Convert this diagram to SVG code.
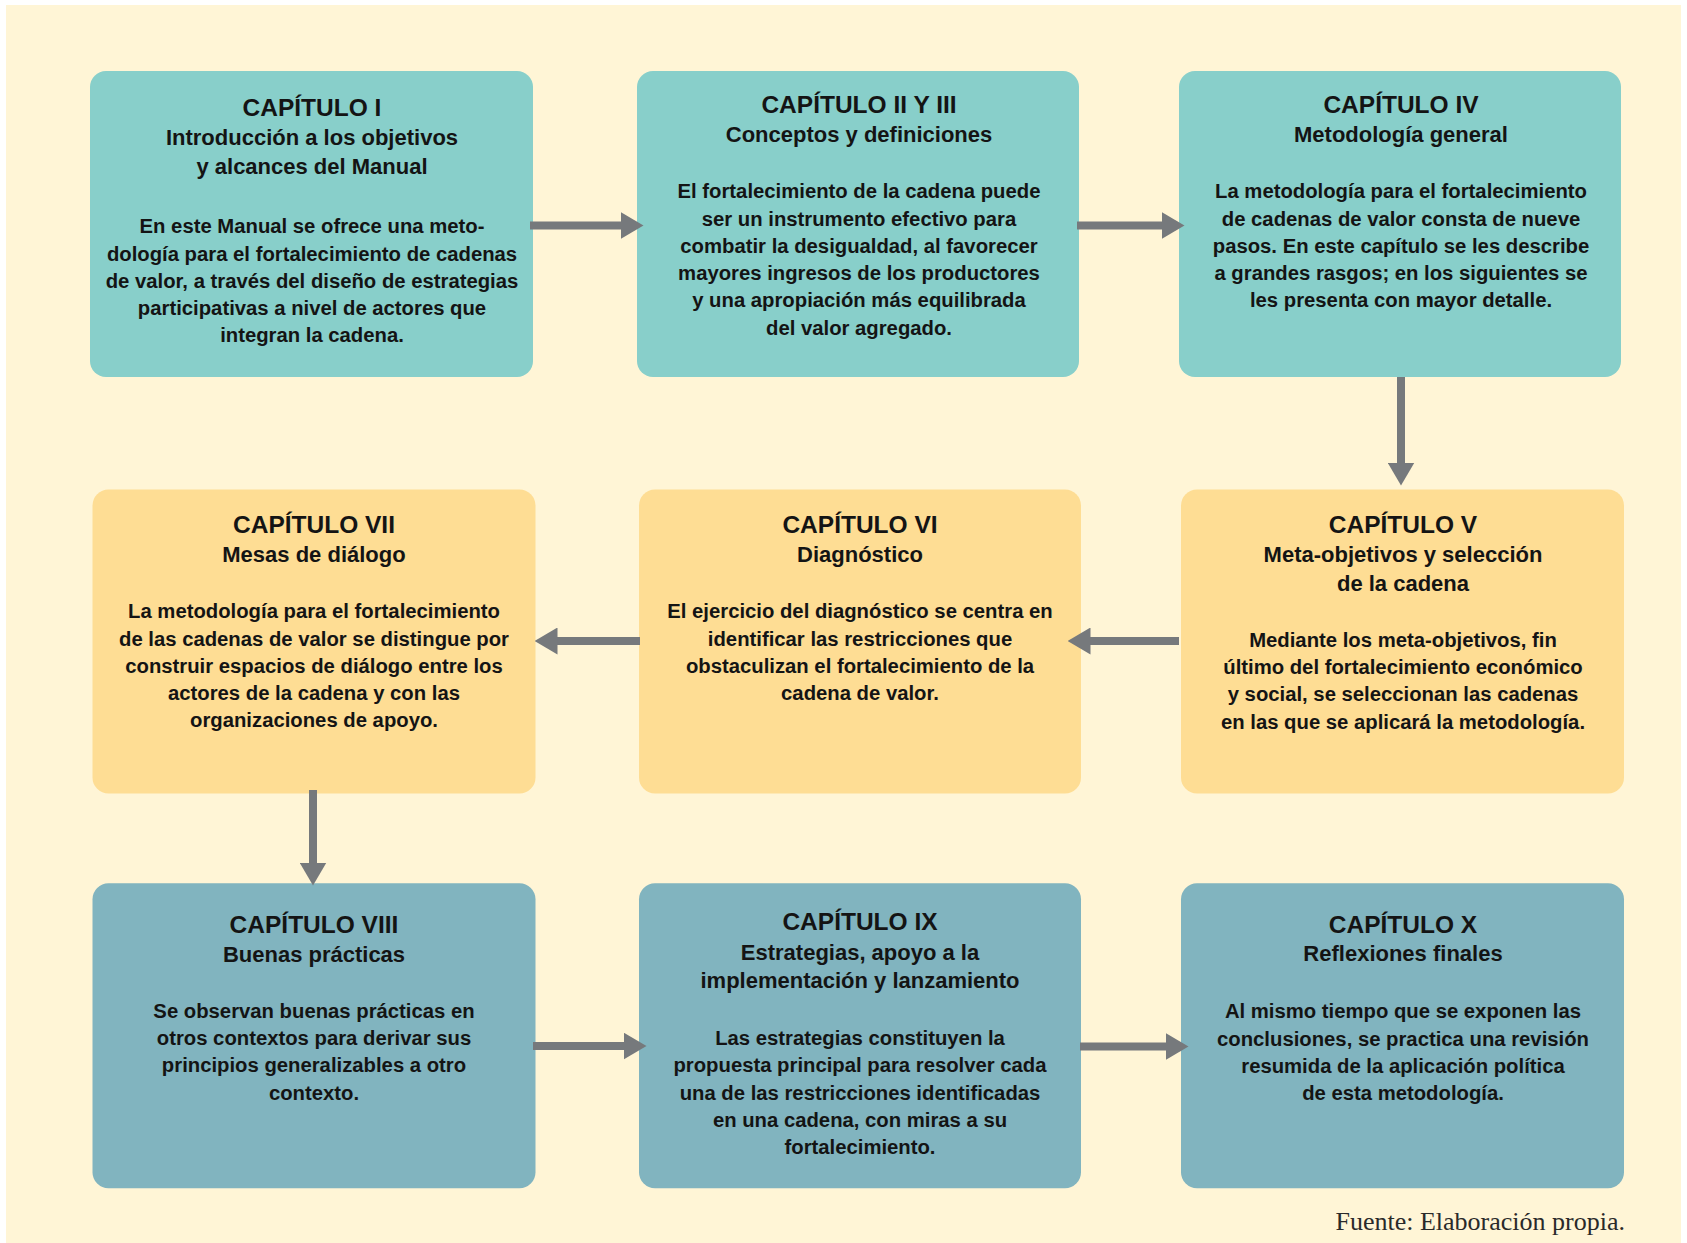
<svg xmlns="http://www.w3.org/2000/svg" width="1687" height="1243" viewBox="0 0 1687 1243">
<defs>
<style>
.bg{fill:#FFF5D6}
.teal{fill:#88CFCA}
.yel{fill:#FEDD94}
.blue{fill:#81B4BF}
text{font-family:"Liberation Sans",Arial,sans-serif;font-weight:bold;fill:#141414;text-anchor:middle}
.t{font-size:24.5px}
.s{font-size:22px}
.b{font-size:20.3px}
.src{font-family:"Liberation Serif","Times New Roman",serif;font-weight:normal;font-size:26px;fill:#2a2a2a;text-anchor:end}
.arr{stroke:#76797C;stroke-width:8;fill:none;marker-end:url(#ah)}
</style>
<marker id="ah" viewBox="0 0 23 27" refX="0.5" refY="13.5" markerWidth="23" markerHeight="27" markerUnits="userSpaceOnUse" orient="auto">
<path d="M0,0 L23,13.5 L0,27 Z" fill="#76797C"/>
</marker>
</defs>
<rect class="bg" x="6" y="5" width="1675" height="1238"/>

<g id="cap1">
<rect class="teal" x="90" y="71" width="443" height="306" rx="16"/>
<text class="t" x="312" y="116">CAPÍTULO I</text>
<text class="s" x="312" y="145">Introducción a los objetivos</text>
<text class="s" x="312" y="174">y alcances del Manual</text>
<text class="b" x="312" y="233.3">En este Manual se ofrece una meto-</text>
<text class="b" x="312" y="260.5">dología para el fortalecimiento de cadenas</text>
<text class="b" x="312" y="287.8">de valor, a través del diseño de estrategias</text>
<text class="b" x="312" y="315">participativas a nivel de actores que</text>
<text class="b" x="312" y="342.3">integran la cadena.</text>
</g>

<g id="cap2y3">
<rect class="teal" x="637" y="71" width="442" height="306" rx="16"/>
<text class="t" x="859" y="113.3">CAPÍTULO II Y III</text>
<text class="s" x="859" y="141.7">Conceptos y definiciones</text>
<text class="b" x="859" y="198.3">El fortalecimiento de la cadena puede</text>
<text class="b" x="859" y="225.6">ser un instrumento efectivo para</text>
<text class="b" x="859" y="252.8">combatir la desigualdad, al favorecer</text>
<text class="b" x="859" y="280">mayores ingresos de los productores</text>
<text class="b" x="859" y="307.3">y una apropiación más equilibrada</text>
<text class="b" x="859" y="334.5">del valor agregado.</text>
</g>

<g id="cap4">
<rect class="teal" x="1179" y="71" width="442" height="306" rx="16"/>
<text class="t" x="1401" y="113.3">CAPÍTULO IV</text>
<text class="s" x="1401" y="141.7">Metodología general</text>
<text class="b" x="1401" y="198.3">La metodología para el fortalecimiento</text>
<text class="b" x="1401" y="225.6">de cadenas de valor consta de nueve</text>
<text class="b" x="1401" y="252.8">pasos. En este capítulo se les describe</text>
<text class="b" x="1401" y="280">a grandes rasgos; en los siguientes se</text>
<text class="b" x="1401" y="307.3">les presenta con mayor detalle.</text>
</g>

<g id="cap7">
<rect class="yel" x="92.5" y="489.5" width="443" height="304" rx="16"/>
<text class="t" x="314" y="533.3">CAPÍTULO VII</text>
<text class="s" x="314" y="561.7">Mesas de diálogo</text>
<text class="b" x="314" y="618.3">La metodología para el fortalecimiento</text>
<text class="b" x="314" y="645.6">de las cadenas de valor se distingue por</text>
<text class="b" x="314" y="672.8">construir espacios de diálogo entre los</text>
<text class="b" x="314" y="700">actores de la cadena y con las</text>
<text class="b" x="314" y="727.3">organizaciones de apoyo.</text>
</g>

<g id="cap6">
<rect class="yel" x="639" y="489.5" width="442" height="304" rx="16"/>
<text class="t" x="860" y="533.3">CAPÍTULO VI</text>
<text class="s" x="860" y="561.7">Diagnóstico</text>
<text class="b" x="860" y="618.3">El ejercicio del diagnóstico se centra en</text>
<text class="b" x="860" y="645.6">identificar las restricciones que</text>
<text class="b" x="860" y="672.8">obstaculizan el fortalecimiento de la</text>
<text class="b" x="860" y="700">cadena de valor.</text>
</g>

<g id="cap5">
<rect class="yel" x="1181" y="489.5" width="443" height="304" rx="16"/>
<text class="t" x="1403" y="533.3">CAPÍTULO V</text>
<text class="s" x="1403" y="562.3">Meta-objetivos y selección</text>
<text class="s" x="1403" y="590.7">de la cadena</text>
<text class="b" x="1403" y="646.7">Mediante los meta-objetivos, fin</text>
<text class="b" x="1403" y="674">último del fortalecimiento económico</text>
<text class="b" x="1403" y="701.3">y social, se seleccionan las cadenas</text>
<text class="b" x="1403" y="728.6">en las que se aplicará la metodología.</text>
</g>

<g id="cap8">
<rect class="blue" x="92.5" y="883.3" width="443" height="305" rx="16"/>
<text class="t" x="314" y="933.3">CAPÍTULO VIII</text>
<text class="s" x="314" y="961.7">Buenas prácticas</text>
<text class="b" x="314" y="1017.7">Se observan buenas prácticas en</text>
<text class="b" x="314" y="1045">otros contextos para derivar sus</text>
<text class="b" x="314" y="1072.3">principios generalizables a otro</text>
<text class="b" x="314" y="1099.6">contexto.</text>
</g>

<g id="cap9">
<rect class="blue" x="639" y="883.3" width="442" height="305" rx="16"/>
<text class="t" x="860" y="930">CAPÍTULO IX</text>
<text class="s" x="860" y="960">Estrategias, apoyo a la</text>
<text class="s" x="860" y="988.3">implementación y lanzamiento</text>
<text class="b" x="860" y="1045">Las estrategias constituyen la</text>
<text class="b" x="860" y="1072.3">propuesta principal para resolver cada</text>
<text class="b" x="860" y="1099.6">una de las restricciones identificadas</text>
<text class="b" x="860" y="1126.9">en una cadena, con miras a su</text>
<text class="b" x="860" y="1154.2">fortalecimiento.</text>
</g>

<g id="cap10">
<rect class="blue" x="1181" y="883.3" width="443" height="305" rx="16"/>
<text class="t" x="1403" y="933.3">CAPÍTULO X</text>
<text class="s" x="1403" y="961">Reflexiones finales</text>
<text class="b" x="1403" y="1018.3">Al mismo tiempo que se exponen las</text>
<text class="b" x="1403" y="1045.6">conclusiones, se practica una revisión</text>
<text class="b" x="1403" y="1072.9">resumida de la aplicación política</text>
<text class="b" x="1403" y="1100.2">de esta metodología.</text>
</g>

<g id="connectors">
<path class="arr" d="M530,225.5 H621"/>
<path class="arr" d="M1077,225.5 H1162"/>
<path class="arr" d="M1401,377 V463"/>
<path class="arr" d="M1179,641 H1090"/>
<path class="arr" d="M640,641 H557"/>
<path class="arr" d="M313,790 V863"/>
<path class="arr" d="M533,1046 H624"/>
<path class="arr" d="M1080,1046.5 H1166"/>
</g>

<text class="src" x="1625" y="1230">Fuente: Elaboración propia.</text>
</svg>
